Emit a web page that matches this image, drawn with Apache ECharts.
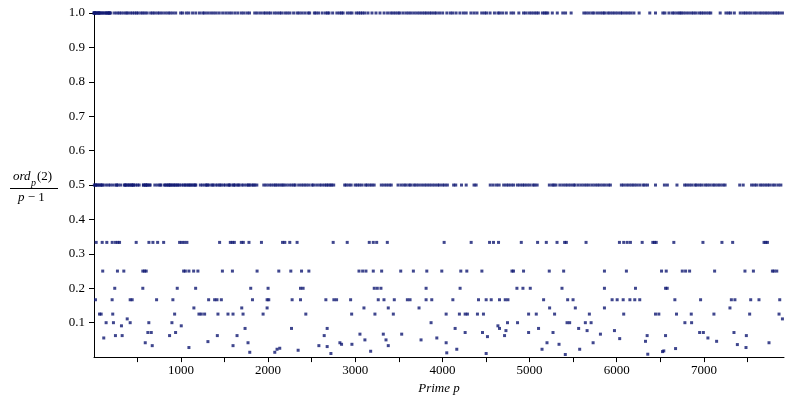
<!DOCTYPE html>
<html>
<head>
<meta charset="utf-8">
<script src="https://cdn.jsdelivr.net/npm/echarts@6/dist/echarts.min.js"></script>
<style>html,body{margin:0;padding:0;background:#fff}#c{width:794px;height:400px}</style>
</head>
<body>
<div id="c"></div>
<script>
// ---- data ----
const xAxisTickValues = [500,1000,1500,2000,2500,3000,3500,4000,4500,5000,5500,6000,6500,7000,7500];
const xAxisLabelValues = [1000,2000,3000,4000,5000,6000,7000];
const yAxisLabelValues = [0.1,0.2,0.3,0.4,0.5,0.6,0.7,0.8,0.9,1.0];

// primes with ratio 1
const xOne = [3,5,11,13,19,29,37,53,59,61,67,83,101,107,131,139,149,163,173,179,181,197,
239,269,293,317,347,373,389,419,443,467,491,509,541,563,587,613,653,677,701,733,757,787,821,853,877,907,940,
997,1019,1061,1091,1134,1171,1213,1250,1272,1306,1341,1373,1405,1440,1479,1515,1549,1580,1618,1653,1693,1723,1759,1787,
1847,1877,1913,1949,1973,2003,2029,2069,2099,2131,2155,
2192,2221,2251,2293,2333,2357,2389,2423,2459,2477,2531,2549,2579,2621,2659,2683,2699,2741,2789,2819,2843,2861,2909,2939,2963,3011,3037,3061,3083,3109,
3146,3192,3238,3284,3331,3371,3407,3433,3461,3491,3511,3548,
3583,3613,3643,3677,3709,3739,3769,3797,3821,3851,3877,3907,3931,3967,4003,
4051,4091,4119,4157,4201,4241,4273,4327,4363,4397,4451,4483,4507,4547,4597,4637,4657,4691,4733,4787,4817,4877,
4931,4957,4993,5021,5051,5077,5101,5147,5171,5189,5209,5261,5318,5381,5413,5477,
5623,5651,5683,5717,5741,5779,5813,5843,5861,5897,5923,5953,5981,6011,6043,6067,6101,6133,6163,6197,
6257,6379,6445,6529,6553,
6599,6637,6659,6691,6719,6737,6761,6791,6823,6857,6883,6911,6947,6971,6997,7027,7057,7079,
7187,7253,7283,7307,7349,
7417,7451,7477,7507,7537,7573,7603,7639,7669,7699,7727,7757,7789,7817,7841,7867,7901];

// primes with ratio 1/2
const xHalf = [7,17,23,41,47,71,79,97,103,137,167,191,223,257,263,281,311,353,359,367,383,401,409,431,439,449,457,479,503,521,569,571,593,599,607,617,641,647,
701,733,761,769,809,823,839,857,863,881,887,911,919,937,953,967,983,1009,1031,1049,1063,1087,1097,1117,1129,1151,1163,1171,
1223,1249,1279,1297,1303,1327,1361,1367,1399,1423,1447,1459,1489,1511,1543,1553,1567,1601,1607,1627,1657,1663,1697,1721,1753,1777,1783,1811,1831,1847,1871,
1951,1979,2011,2039,2069,2087,2111,2137,2161,2179,2207,2239,2269,2297,2311,
2351,2383,2411,2437,2467,2503,2521,2557,2591,2617,2647,2671,2689,2713,2729,2753,
2879,2897,2927,2953,2999,3023,3049,3079,3119,3137,3167,3191,3217,
3299,3329,3359,3389,3413,
3491,3527,3559,3583,3617,3637,3673,3697,3727,3761,3793,3821,3851,3881,3911,3943,3967,4001,4027,4057,
4129,4153,4219,4273,4363,4387,4549,4583,4621,4651,
4703,4733,4759,4789,4817,4861,4889,4919,4943,4973,5003,5039,5059,5087,
5227,5261,5279,5303,5347,5381,5413,5441,5471,5503,5521,5557,5591,5623,5653,5683,5717,5749,5779,5807,5839,5869,5903,5927,
6053,6079,6113,6143,6173,6199,6229,6263,6301,6323,6353,6445,6547,6581,6691,
6779,6803,6833,6863,6899,6917,6949,6977,7013,7039,7069,7103,7127,7159,7187,7219,7243,
7411,7451,7547,7577,7603,7643,7669,7699,7727,7753,7789,7817,7853,7883];

// primes with ratio 1/3
const xThird = [28,97,150,212,250,276,296,487,633,679,733,802,985,1011,1039,1069,1444,1567,1590,1613,1693,1716,1781,1924,
2166,2192,2249,2333,2747,2908,3161,3207,3246,3368,
4020,4330,4541,4586,4644,4905,5092,5192,5315,5402,5422,5648,
6031,6080,6120,6157,6292,6414,6433,6453,6655,6989,7207,7330,7690,7709,7729];

// primes with ratio 1/4
const xQuarter = [103,272,345,563,583,602,1031,1051,1092,1146,1195,1476,1591,1874,
2123,2261,2384,2468,3043,3085,3123,3207,3303,3522,3667,3821,
3993,4211,4280,4453,4798,4816,4931,5226,5391,5859,
6111,6514,6568,6752,6790,6836,7123,7471,7568,7786,7805,7836];

// primes with ratio 1/5
const xFifth = [241,563,958,1169,1801,2000,2372,2402,3218,3253,3295,3813,
4203,4855,4924,5008,5372,5859,6215,6560,6579];

// primes with ratio 1/6
const xSixth = [20,211,418,441,721,908,1318,1387,1414,1464,1821,
1989,2008,2276,2372,2663,2755,2786,2947,3264,3330,3448,3598,3629,3813,3878,
4120,4414,4502,4560,4655,4721,4752,5161,5437,5499,
5947,6005,6074,6151,6207,6264,6667,6962,7315,7356,7537,7632,7870];

// primes with ratio 1/7
const xSeventh = [1149,1698,1989,3100,3379,3732,5230,5525,5859,7299];

// primes with ratio 1/8
const xEighth = [66,85,218,928,1207,1234,1272,1425,1540,1598,1713,1943,
2433,2959,3226,3437,4043,4195,4261,4287,4402,4471,4989,5077,5287,5686,
6080,6445,6483,6686,6855,7115,7525,7862];

// remaining small ratios
const xSmall = [384,7901,
142,226,418,632,897,3870,4747,4862,5430,5460,5640,5706,6782,6859,
318,1004,4637,
1736,2269,2678,4146,4655,5103,5563,
5660,4729,5974,
621,660,939,4261,4460,4989,5269,6951,6994,7345,
3054,3322,3533,5813,
249,326,870,1418,1644,2644,4713,6349,6560,7487,
4517,
115,3936,7046,
6034,
3111,3353,3755,
6330,7146,
1310,
591,1770,2824,4043,5200,5729,7747,
2843,2962,5338,
7384,
671,1598,2583,3379,
2678,
1092,7483,
2134,
6675,
2103,4165,5143,5575,
2345,
6540,
3177,6525,
1790,2077,
4050,
2721,4502,
6356,
5410];
const ySmall = [0.111,0.111,
0.1,0.1,0.1,0.1,0.1,0.1,0.1,0.1,0.1,0.1,0.1,0.1,0.1,0.1,
0.0909,0.0909,0.0909,
0.0833,0.0833,0.0833,0.0833,0.0833,0.0833,0.0833,
0.077,0.077,0.077,
0.0714,0.0714,0.0714,0.0714,0.0714,0.0714,0.0714,0.0714,0.0714,0.0714,
0.0667,0.0667,0.0667,0.0667,
0.0625,0.0625,0.0625,0.0625,0.0625,0.0625,0.0625,0.0625,0.0625,0.0625,
0.0595,
0.0556,0.0556,0.0556,
0.0537,
0.05,0.05,0.05,
0.0459,0.0459,
0.045,
0.0417,0.0417,0.0417,0.0417,0.0417,0.0417,0.0417,
0.0372,0.0372,0.0372,
0.0364,
0.0333,0.0333,0.0333,0.0333,
0.0306,
0.0278,0.0278,
0.0257,
0.0248,
0.0228,0.0228,0.0228,0.0228,
0.0199,
0.018,
0.017,0.016,
0.014,0.014,
0.0124,
0.0104,0.0104,
0.0084,
0.0075];

// ---- build chart ----
const pts = [];
xOne.forEach(x => pts.push([x, 1]));
xHalf.forEach(x => pts.push([x, 1/2]));
xThird.forEach(x => pts.push([x, 1/3]));
xQuarter.forEach(x => pts.push([x, 1/4]));
xFifth.forEach(x => pts.push([x, 1/5]));
xSixth.forEach(x => pts.push([x, 1/6]));
xSeventh.forEach(x => pts.push([x, 1/7]));
xEighth.forEach(x => pts.push([x, 1/8]));
xSmall.forEach((x, i) => pts.push([x, ySmall[i]]));

const serif = '"Liberation Serif", "DejaVu Serif", serif';
const chart = echarts.init(document.getElementById('c'), null, {renderer: 'canvas'});
chart.setOption({
  animation: false,
  backgroundColor: '#ffffff',
  grid: {left: 94, right: 10, top: 13, bottom: 40, containLabel: false},
  xAxis: {
    type: 'value', min: 3, max: 7919,
    name: 'Prime p', nameLocation: 'middle', nameGap: 23,
    nameTextStyle: {fontFamily: serif, fontStyle: 'italic', fontSize: 13, color: '#000'},
    axisLine: {show: true, onZero: false, lineStyle: {color: '#000', width: 1}},
    axisTick: {show: true, length: 5, customValues: xAxisTickValues, lineStyle: {color: '#000'}},
    axisLabel: {customValues: xAxisLabelValues, margin: 7, fontFamily: serif, fontSize: 13, color: '#000',
      formatter: v => String(v)},
    splitLine: {show: false}
  },
  yAxis: {
    type: 'value', min: 0, max: 1,
    axisLine: {show: true, onZero: false, lineStyle: {color: '#000', width: 1}},
    axisTick: {show: true, length: 5, customValues: yAxisLabelValues, lineStyle: {color: '#000'}},
    minorTick: {show: true, splitNumber: 2, length: 3, lineStyle: {color: '#000'}},
    axisLabel: {customValues: yAxisLabelValues, margin: 9, fontFamily: serif, fontSize: 13, color: '#000',
      formatter: v => v.toFixed(1)},
    splitLine: {show: false}, minorSplitLine: {show: false}
  },
  graphic: [
    {type: 'text', left: 13, top: 170, style: {text: 'ord', font: 'italic 13px ' + serif, fill: '#000'}},
    {type: 'text', left: 31, top: 178, style: {text: 'p', font: 'italic 10px ' + serif, fill: '#000'}},
    {type: 'text', left: 37, top: 170, style: {text: '(2)', font: '13px ' + serif, fill: '#000'}},
    {type: 'line', shape: {x1: 10, y1: 188.5, x2: 58, y2: 188.5}, style: {stroke: '#000', lineWidth: 1}},
    {type: 'text', left: 18, top: 191, style: {text: '{i|p} − 1', font: '13px ' + serif, fill: '#000',
      rich: {i: {fontStyle: 'italic', fontFamily: serif, fontSize: 13}}}}
  ],
  series: [{
    type: 'scatter',
    data: pts,
    symbol: 'rect',
    symbolSize: 3,
    itemStyle: {color: '#0f1872'},
    clip: false
  }]
});
</script>
</body>
</html>
